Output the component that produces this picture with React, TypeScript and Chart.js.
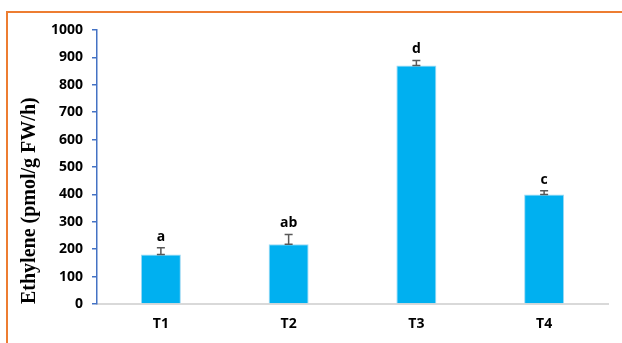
import React, { useEffect, useRef } from "react";
import { Chart, registerables } from "chart.js";

Chart.register(...registerables);

const categories = ["T1", "T2", "T3", "T4"];
const values = [181, 218, 870, 400];
const errors = [24, 36, 19, 13];
const letters = ["a", "ab", "d", "c"];
const yTicks = [0, 100, 200, 300, 400, 500, 600, 700, 800, 900, 1000];
const yTitle = "Ethylene (pmol/g FW/h)";

const errorBarPlugin = {
  id: "errorBars",
  afterDatasetsDraw(chart: any) {
    const ctx = chart.ctx;
    const meta = chart.getDatasetMeta(0);
    const yScale = chart.scales.y;
    ctx.save();
    meta.data.forEach((bar: any, i: number) => {
      const x = bar.x;
      const yTop = yScale.getPixelForValue(values[i] + errors[i]);
      const yBase = yScale.getPixelForValue(values[i]);
      ctx.strokeStyle = "#595959";
      ctx.lineWidth = 1.5;
      ctx.beginPath();
      ctx.moveTo(x, yBase);
      ctx.lineTo(x, yTop);
      ctx.moveTo(x - 4, yTop);
      ctx.lineTo(x + 4, yTop);
      ctx.moveTo(x - 4, yBase);
      ctx.lineTo(x + 4, yBase);
      ctx.stroke();
      ctx.fillStyle = "#000000";
      ctx.font = "bold 14px 'Open Sans'";
      ctx.textAlign = "center";
      ctx.textBaseline = "middle";
      ctx.fillText(letters[i], x, yTop - 11);
    });
    ctx.restore();
  },
};

export default function App() {
  const ref = useRef<HTMLCanvasElement>(null);
  useEffect(() => {
    if (!ref.current) return;
    const chart = new Chart(ref.current, {
      type: "bar",
      data: {
        labels: categories,
        datasets: [
          {
            data: values,
            backgroundColor: "#00B0F0",
            borderColor: "#9DD9F3",
            borderWidth: 1,
            barPercentage: 0.313,
            categoryPercentage: 1,
          },
        ],
      },
      options: {
        responsive: false,
        animation: false,
        layout: { padding: { left: 0, top: 30, right: 14, bottom: 0 } },
        plugins: { legend: { display: false }, tooltip: { enabled: false } },
        scales: {
          x: {
            grid: { display: false, drawTicks: false },
            border: { display: true, color: "#D9D9D9", width: 2 },
            ticks: {
              color: "#000000",
              padding: 12,
              font: { family: "'Open Sans'", size: 14, weight: "bold" },
            },
            afterFit: (s: any) => {
              s.height = 39;
            },
          },
          y: {
            min: 0,
            max: 1000,
            afterBuildTicks: (s: any) => {
              s.ticks = yTicks.map((v) => ({ value: v }));
            },
            grid: {
              drawOnChartArea: false,
              drawTicks: true,
              tickLength: 5,
              color: "#4472C4",
              lineWidth: 1.5,
            },
            border: { display: true, color: "#4472C4", width: 1.5 },
            ticks: {
              color: "#000000",
              padding: 9,
              font: { family: "'Open Sans'", size: 14, weight: "bold" },
              callback: (v: any) => String(v),
            },
            title: {
              display: true,
              text: yTitle,
              align: "start",
              color: "#000000",
              padding: { top: 18, bottom: 0 },
              font: { family: "'Liberation Serif'", size: 20, weight: "bold" },
            },
            afterFit: (s: any) => {
              s.width = 97;
            },
          },
        },
      },
      plugins: [errorBarPlugin],
    } as any);
    return () => chart.destroy();
  }, []);

  return (
    <div style={{ position: "fixed", left: 0, top: 0, width: 622, height: 343, background: "#fff", overflow: "hidden" }}>
      <div
        style={{
          position: "absolute",
          left: 6,
          top: 11,
          width: 700,
          height: 500,
          borderTop: "2px solid #ED7D31",
          borderLeft: "2px solid #ED7D31",
        }}
      />
      <canvas ref={ref} width={622} height={343} style={{ position: "absolute", left: 0, top: 0, display: "block" }} />
    </div>
  );
}
